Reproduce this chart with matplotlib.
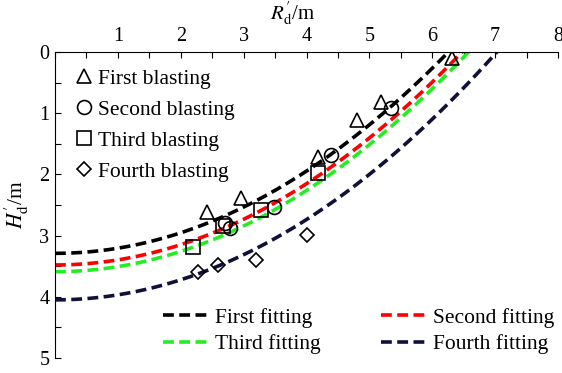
import matplotlib
matplotlib.use('Agg')
import matplotlib.pyplot as plt
import numpy as np
from matplotlib.lines import Line2D
from matplotlib.ticker import MultipleLocator

plt.rcParams['font.family'] = ['Liberation Serif', 'DejaVu Serif']
plt.rcParams['mathtext.fontset'] = 'stix'

# ---- measured data (R'_d, H'_d) ----
first_R = [6.32, 5.19, 4.81, 4.18, 2.96, 2.41]
first_H = [0.10, 0.81, 1.11, 1.71, 2.39, 2.61]
second_R = [5.34, 4.39, 3.49, 2.78, 2.70]
second_H = [0.92, 1.69, 2.53, 2.88, 2.80]
third_R = [4.18, 3.28, 2.67, 2.20]
third_H = [1.98, 2.58, 2.85, 3.18]
fourth_R = [4.00, 3.19, 2.59, 2.28]
fourth_H = [2.99, 3.40, 3.48, 3.59]

blast_labels = ['First blasting', 'Second blasting', 'Third blasting', 'Fourth blasting']
blast_markers = ['^', 'o', 's', 'D']

# ---- fitted curves H = H0 - k * R^2 ----
fit_labels = ['First fitting', 'Second fitting', 'Third fitting', 'Fourth fitting']
fit_H0 = [3.29, 3.48, 3.59, 4.05]
fit_k = [0.084, 0.083, 0.083, 0.082]
fit_colors = ['#000000', '#ff0000', '#22ee22', '#10103a']

W, H = 562, 373
fig = plt.figure(figsize=(W / 100, H / 100), dpi=100)
ax = fig.add_axes([55 / W, 1 - 358 / H, 503 / W, 306 / H])

fs = 15.5
lw = 2.6
fit_handles = []
for H0, k, c, lab in zip(fit_H0, fit_k, fit_colors, fit_labels):
    R0 = np.sqrt(H0 / k)
    R = np.linspace(0, R0, 300)
    ln, = ax.plot(R, H0 - k * R ** 2, color=c, lw=lw, dashes=(3.0, 1.5),
                  dash_capstyle='butt', label=lab)
    fit_handles.append(ln)

mk = dict(color='black', linestyle='none', markerfacecolor='none',
          markeredgecolor='black', markeredgewidth=1.2)
msizes = [10, 10, 9.5, 7]
for Rv, Hv, m, s in zip([first_R, second_R, third_R, fourth_R],
                        [first_H, second_H, third_H, fourth_H],
                        blast_markers, msizes):
    ax.plot(Rv, Hv, marker=m, markersize=s, **mk)

ax.set_xlim(0, 8)
ax.set_ylim(5, 0)
ax.spines['right'].set_visible(False)
ax.spines['bottom'].set_visible(False)
ax.xaxis.set_ticks_position('top')
ax.xaxis.set_label_position('top')
ax.set_xticks([1, 2, 3, 4, 5, 6, 7, 8])
ax.set_yticks([0, 1, 2, 3, 4, 5])
ax.xaxis.set_minor_locator(MultipleLocator(0.5))
ax.yaxis.set_minor_locator(MultipleLocator(0.5))
ax.tick_params(which='both', direction='in', length=4, width=0.8,
               labelsize=14.5, pad=4)
ax.set_xlabel(r"$R_{\mathrm{d}}^{\prime}$/m", fontsize=15)
ax.set_ylabel(r"$H_{\mathrm{d}}^{\prime}$/m", fontsize=fs, labelpad=6)
ax.xaxis.set_label_coords(0.472, 1.0 + 32 / 306)

mhandles = [Line2D([], [], marker=m, markersize=s, **mk)
            for m, s in zip(blast_markers, msizes)]
leg1 = ax.legend(mhandles, blast_labels, loc='upper left',
                 bbox_to_anchor=(0.040, 0.946), frameon=False, fontsize=fs,
                 handlelength=0.8, handletextpad=0.25, borderpad=0,
                 borderaxespad=0, labelspacing=0.51)
ax.add_artist(leg1)

order = [0, 2, 1, 3]
ax.legend([fit_handles[i] for i in order], [fit_labels[i] for i in order],
          loc='upper left', ncol=2,
          bbox_to_anchor=(0.214, 0.165), frameon=False, fontsize=fs,
          handlelength=2.1, handletextpad=0.33, borderpad=0,
          borderaxespad=0, labelspacing=0.3, columnspacing=2.8)

fig.savefig('out.png', dpi=100)
